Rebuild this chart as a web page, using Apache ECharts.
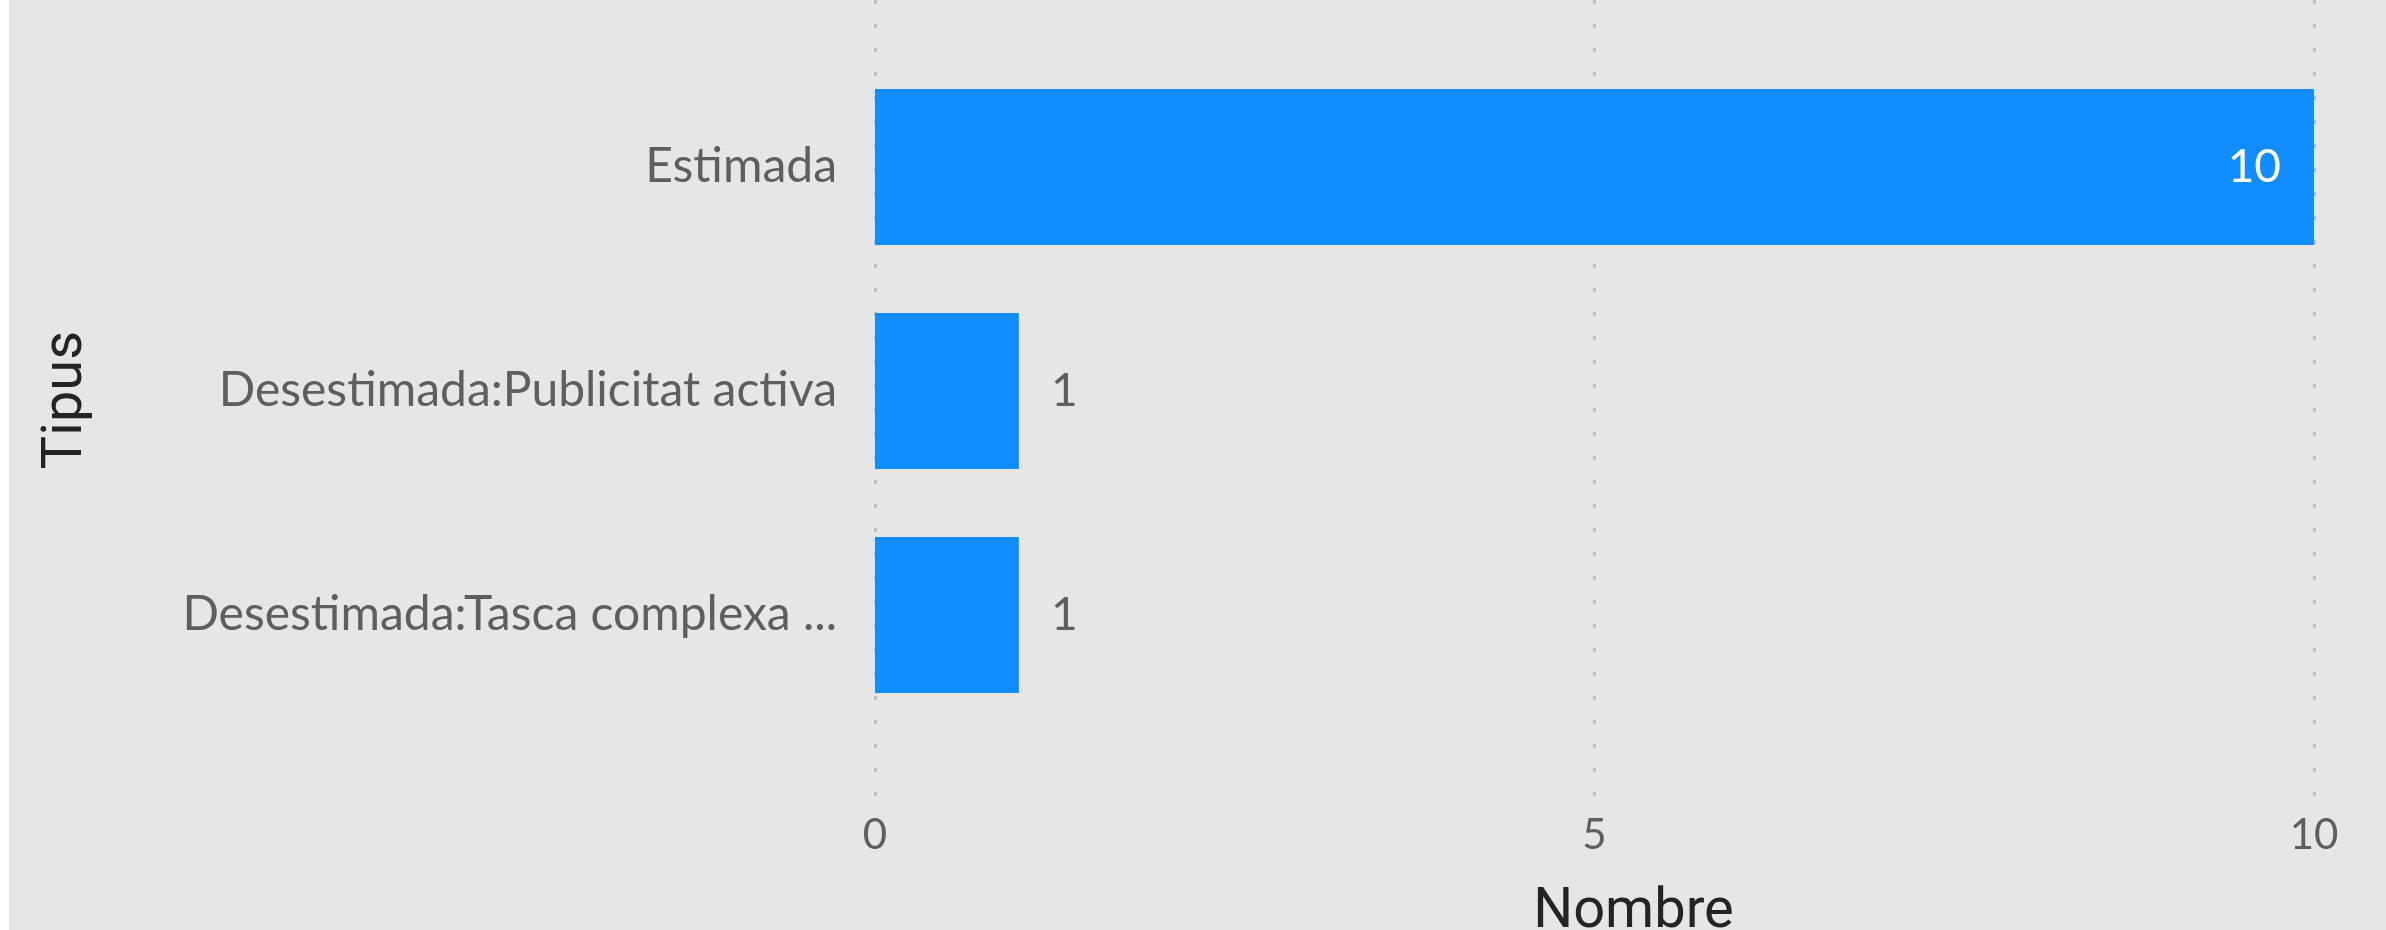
<!DOCTYPE html>
<html>
<head>
<meta charset="utf-8">
<script src="https://cdn.jsdelivr.net/npm/echarts@6/dist/echarts.min.js"></script>
<style>
  html, body { margin: 0; padding: 0; background: #fff; }
  #chart { position: absolute; left: 9px; top: 0; width: 2377px; height: 930px; }
</style>
</head>
<body>
<div id="chart"></div>
<script>
const categories = ['Estimada', 'Desestimada:Publicitat activa', 'Desestimada:Tasca complexa ...']
const counts = [10, 1, 1]
const xTicks = [0, 5, 10]

const labelFont = "'Segoe UI', Lato, 'Open Sans', sans-serif"
const titleFont = "Roboto, 'DIN', sans-serif"

const chart = echarts.init(document.getElementById('chart'))

chart.setOption({
  backgroundColor: '#e6e6e6',
  animation: false,
  grid: [
    // gridlines + value labels span the full plot height
    { left: 866, right: 72, top: 0, height: 800, outerBoundsMode: 'none' },
    // bars sit in a narrower band
    { left: 866, right: 72, top: 55, height: 672, outerBoundsMode: 'none' }
  ],
  xAxis: [
    {
      gridIndex: 0,
      type: 'value',
      min: xTicks[0],
      max: xTicks[xTicks.length - 1],
      interval: xTicks[1] - xTicks[0],
      axisLine: { show: false },
      axisTick: { show: false },
      splitLine: {
        show: true,
        lineStyle: { color: '#bdbdbd', width: 3, type: [4, 20] }
      },
      axisLabel: {
        color: '#605e5c',
        fontSize: 42,
        fontFamily: labelFont,
        margin: 14
      },
      name: 'Nombre',
      nameLocation: 'middle',
      nameGap: 85,
      nameTextStyle: {
        color: '#252423',
        fontSize: 56,
        fontFamily: titleFont,
        padding: [0, 0, 0, 78]
      }
    },
    {
      gridIndex: 1,
      type: 'value',
      min: xTicks[0],
      max: xTicks[xTicks.length - 1],
      show: false
    }
  ],
  yAxis: [
    {
      gridIndex: 0,
      type: 'value',
      axisLine: { show: false },
      axisTick: { show: false },
      axisLabel: { show: false },
      splitLine: { show: false },
      name: 'Tipus',
      nameLocation: 'middle',
      nameGap: 780,
      nameTextStyle: {
        color: '#252423',
        fontSize: 56,
        fontFamily: titleFont
      }
    },
    {
      gridIndex: 1,
      type: 'category',
      inverse: true,
      data: categories,
      axisLine: { show: false },
      axisTick: { show: false },
      splitLine: { show: false },
      axisLabel: {
        color: '#605e5c',
        fontSize: 48,
        fontFamily: labelFont,
        margin: 38
      }
    }
  ],
  series: [
    {
      type: 'bar',
      xAxisIndex: 1,
      yAxisIndex: 1,
      barWidth: 156,
      itemStyle: { color: '#118dff' },
      label: {
        show: true,
        position: 'right',
        distance: 32,
        color: '#605e5c',
        fontSize: 46,
        fontFamily: labelFont
      },
      data: counts.map(v => v > 5
        ? { value: v, label: { position: 'insideRight', distance: 33, color: '#ffffff' } }
        : v)
    }
  ]
})
</script>
</body>
</html>
